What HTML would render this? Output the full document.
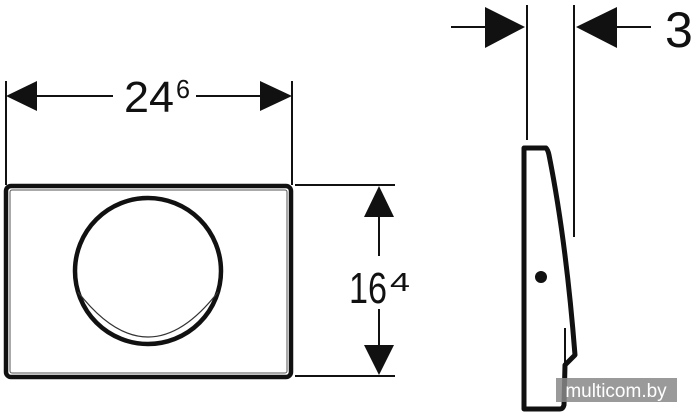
<!DOCTYPE html>
<html><head><style>
html,body{margin:0;padding:0;background:#fff;width:700px;height:413px;overflow:hidden}
text{font-family:"Liberation Sans",sans-serif;fill:#111}
</style></head><body>
<svg width="700" height="413" viewBox="0 0 700 413" xmlns="http://www.w3.org/2000/svg">
<g stroke="#111" stroke-width="2" fill="none">
<line x1="6" y1="81" x2="6" y2="185"/>
<line x1="292" y1="81" x2="292" y2="185"/>
<line x1="37" y1="96" x2="113" y2="96"/>
<line x1="196" y1="96" x2="260" y2="96"/>
<line x1="295" y1="185" x2="395" y2="185"/>
<line x1="295" y1="376" x2="395" y2="376"/>
<line x1="379" y1="217" x2="379" y2="256"/>
<line x1="379" y1="309" x2="379" y2="345"/>
<line x1="527" y1="5" x2="527" y2="140"/>
<line x1="574" y1="5" x2="574" y2="237"/>
<line x1="451" y1="27" x2="486" y2="27"/>
<line x1="616" y1="27" x2="651" y2="27"/>
</g>
<g fill="#111">
<polygon points="6,96 37,81 37,111"/>
<polygon points="292,96 260,81 260,111"/>
<polygon points="379,186 364,217 394,217"/>
<polygon points="379,375 364,345 394,345"/>
<polygon points="525,27 485,7 485,48"/>
<polygon points="576,27 617,7 617,48"/>
</g>
<text x="124" y="112" font-size="44" textLength="50" lengthAdjust="spacingAndGlyphs">24</text>
<text x="176" y="98" font-size="26" textLength="14" lengthAdjust="spacingAndGlyphs">6</text>
<text x="349" y="303" font-size="44" textLength="38" lengthAdjust="spacingAndGlyphs">16</text>
<text x="390" y="291" font-size="26" textLength="20" lengthAdjust="spacingAndGlyphs">4</text>
<text x="665" y="47" font-size="50">3</text>
<rect x="6" y="186" width="285" height="191" rx="5" fill="none" stroke="#111" stroke-width="4.5"/>
<rect x="10" y="190" width="277" height="183" rx="2" fill="none" stroke="#555" stroke-width="1"/>
<circle cx="148" cy="271" r="73" fill="none" stroke="#111" stroke-width="4.5"/>
<path d="M78,292 Q148,382 218,292" fill="none" stroke="#333" stroke-width="1.2"/>
<path d="M524,148 L546,148 Q548,150 549,155 Q566,240 575,355 L565,365 L564,405 Q563,409 560,409 L524,409 Z" fill="none" stroke="#111" stroke-width="5" stroke-linejoin="round"/>
<line x1="565" y1="328" x2="565" y2="365" stroke="#111" stroke-width="2"/>
<circle cx="541" cy="277" r="6" fill="#111"/>
<rect x="556" y="378" width="121" height="24" fill="#888" opacity="0.85"/>
<text x="616" y="397" font-size="19" text-anchor="middle" style="fill:#fff">multicom.by</text>
</svg>
</body></html>
